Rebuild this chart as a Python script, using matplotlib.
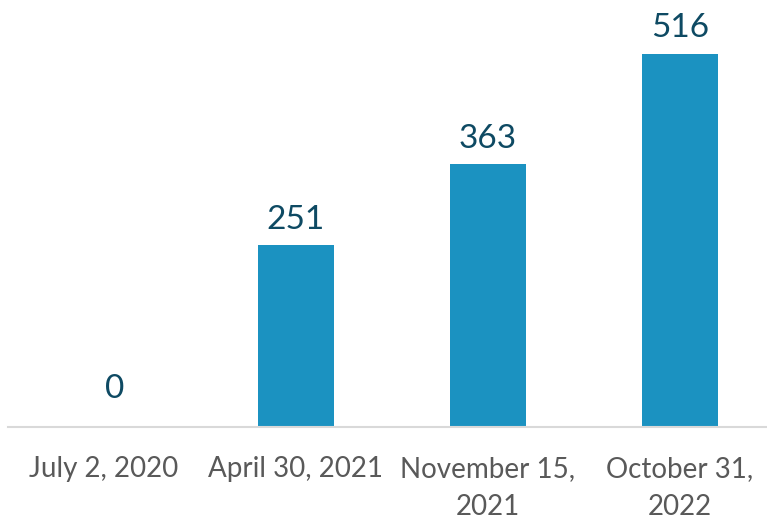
import matplotlib.pyplot as plt
import numpy as np

# chart data
dates = ['July 2, 2020', 'April 30, 2021', 'November 15,\n2021', 'October 31,\n2022']
counts = [0, 251, 363, 516]

BAR = '#1b92c1'
LABEL = '#0e4a63'
TICK = '#595959'

plt.rcParams['font.family'] = ['Lato', 'DejaVu Sans']

fig = plt.figure(figsize=(7.67, 5.21), dpi=100)
# axes spans from x=8px to the right edge, y from baseline at 427px up to the top
ax = fig.add_axes([8 / 767, (521 - 427) / 521, 759 / 767, 427 / 521])

x = np.arange(len(dates))
bars = ax.bar(x, counts, width=76 / 192, color=BAR)

for xi, v in zip(x, counts):
    # the empty bar's label sits a bit higher and to the right, like in the source
    off = (8, 21) if v == 0 else (0, 12)
    ax.annotate(str(v), (xi, v), xytext=off, textcoords='offset points',
                ha='center', va='baseline', fontsize=24, color=LABEL)

ax.set_xlim(-0.5, 3.5 - 9 / 192)
ax.set_ylim(0, 590)

ax.set_xticks(x)
ax.set_xticklabels(dates, fontsize=20, color=TICK, linespacing=1.55)
ax.tick_params(axis='x', length=0, pad=21)
ax.set_yticks([])

for s in ['top', 'right', 'left']:
    ax.spines[s].set_visible(False)
ax.spines['bottom'].set_color('#d9d9d9')
ax.spines['bottom'].set_linewidth(1.5)

fig.savefig('out.png', dpi=100)
